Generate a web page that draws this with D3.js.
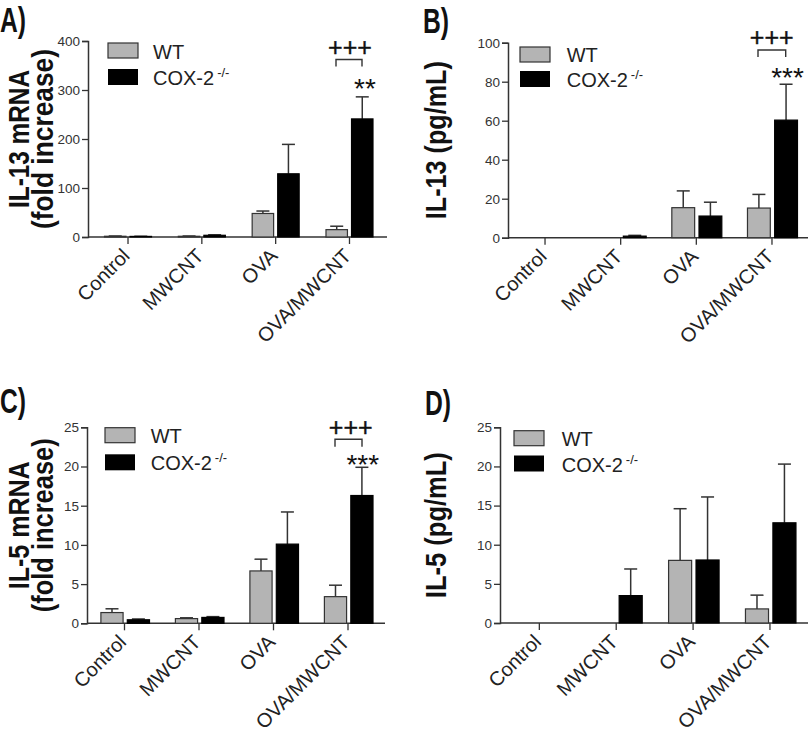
<!DOCTYPE html>
<html><head><meta charset="utf-8">
<script src="https://cdn.jsdelivr.net/npm/d3@7"></script>
<style>
html,body{margin:0;padding:0;background:#fff;}
svg{display:block;}
text{font-family:"Liberation Sans",Arial,sans-serif;}
</style></head>
<body>
<svg id="chart" width="810" height="737"></svg>
<script>
// ---------- data ----------
const categories = ["Control", "MWCNT", "OVA", "OVA/MWCNT"];
const seriesNames = ["WT", "COX-2"];

// Panel A: IL-13 mRNA (fold increase)
const aWT = [1.5, 1.5, 48, 15];
const aWTsem = [0.5, 0.5, 5, 7];
const aCOX = [1.2, 3.5, 129, 241];
const aCOXsem = [0.3, 1, 60, 45];
const aTicks = [0, 100, 200, 300, 400];

// Panel B: IL-13 (pg/mL)
const bWT = [0, 0, 15.4, 15.2];
const bWTsem = [0, 0, 8.6, 7];
const bCOX = [0, 0.8, 11.1, 60.3];
const bCOXsem = [0, 0.4, 7.1, 18.4];
const bTicks = [0, 20, 40, 60, 80, 100];

// Panel C: IL-5 mRNA (fold increase)
const cWT = [1.37, 0.6, 6.68, 3.4];
const cWTsem = [0.48, 0.1, 1.5, 1.46];
const cCOX = [0.45, 0.75, 10.1, 16.3];
const cCOXsem = [0.1, 0.1, 4.1, 3.6];
const cTicks = [0, 5, 10, 15, 20, 25];

// Panel D: IL-5 (pg/mL)
const dWT = [0, 0, 8.0, 1.8];
const dWTsem = [0, 0, 6.6, 1.76];
const dCOX = [0, 3.5, 8.05, 12.8];
const dCOXsem = [0, 3.4, 8.05, 7.5];
const dTicks = [0, 5, 10, 15, 20, 25];

// ---------- drawing ----------
const svg = d3.select("#chart");
svg.append("rect").attr("width", 810).attr("height", 737).attr("fill", "#fff");

const GREY = "#b4b4b4", INK = "#333";

function drawPanel(cfg) {
  const g = svg.append("g");
  const y = d3.scaleLinear().domain(cfg.yDomain).range([cfg.y0, cfg.y1]);
  const x = d3.scaleBand().domain(categories).range(cfg.bandRange);
  const xs = d3.scaleBand().domain(seriesNames).range(cfg.subRange).paddingInner(0.16);
  const cx = c => x(c) + x.bandwidth() / 2;

  // panel letter
  g.append("text").attr("x", cfg.letterX).attr("y", cfg.letterY)
    .attr("font-weight", "bold").attr("font-size", 35)
    .attr("textLength", 26).attr("lengthAdjust", "spacingAndGlyphs")
    .attr("fill", "#111").text(cfg.letter);

  // y axis
  const yAxis = d3.axisLeft(y).tickValues(cfg.ticks).tickSize(6).tickPadding(2).tickFormat(d3.format("d"));
  const ya = g.append("g").attr("transform", `translate(${cfg.axisX},0)`).call(yAxis);
  ya.select(".domain").attr("stroke", INK).attr("stroke-width", 1.5);
  ya.selectAll(".tick line").attr("stroke", INK).attr("stroke-width", 1.3);
  ya.selectAll(".tick text").attr("font-size", 13.5).attr("fill", "#333")
    .attr("font-family", "'Liberation Sans',Arial,sans-serif");

  // x axis
  const xa = g.append("g");
  xa.append("line").attr("x1", cfg.axisX).attr("x2", cfg.axisEnd)
    .attr("y1", y(0)).attr("y2", y(0)).attr("stroke", INK).attr("stroke-width", 1.5);
  xa.selectAll("line.tk").data(categories).join("line").attr("class", "tk")
    .attr("x1", d => cx(d)).attr("x2", d => cx(d))
    .attr("y1", y(0)).attr("y2", y(0) + 7).attr("stroke", INK).attr("stroke-width", 1.3);
  xa.selectAll("text").data(categories).join("text")
    .attr("transform", d => `translate(${cx(d) + 3},${y(0) + 20}) rotate(-45)`)
    .attr("text-anchor", "end").attr("font-size", 20).attr("fill", "#222").text(d => d);

  // bars data
  const rows = [];
  categories.forEach((c, i) => {
    rows.push({ c, s: "WT", v: cfg.wt[i], e: cfg.wtSem[i] });
    rows.push({ c, s: "COX-2", v: cfg.cox[i], e: cfg.coxSem[i] });
  });
  const vis = rows.filter(r => r.v > 0);
  const bx = r => cx(r.c) + xs(r.s);
  // error bars
  g.selectAll("line.err").data(vis).join("line").attr("class", "err")
    .attr("x1", r => bx(r) + xs.bandwidth() / 2).attr("x2", r => bx(r) + xs.bandwidth() / 2)
    .attr("y1", r => y(r.v)).attr("y2", r => y(r.v + r.e)).attr("stroke", INK).attr("stroke-width", 1.5);
  g.selectAll("line.cap").data(vis).join("line").attr("class", "cap")
    .attr("x1", r => bx(r) + xs.bandwidth() / 2 - 6.5).attr("x2", r => bx(r) + xs.bandwidth() / 2 + 6.5)
    .attr("y1", r => y(r.v + r.e)).attr("y2", r => y(r.v + r.e)).attr("stroke", INK).attr("stroke-width", 1.5);
  // bars
  g.selectAll("rect.bar").data(vis).join("rect").attr("class", "bar")
    .attr("x", r => bx(r)).attr("width", xs.bandwidth())
    .attr("y", r => y(r.v)).attr("height", r => y(0) - y(r.v))
    .attr("fill", r => r.s === "WT" ? GREY : "#000")
    .attr("stroke", r => r.s === "WT" ? INK : "#000").attr("stroke-width", 1.2);

  // y title
  cfg.titleLines.forEach((t, i) => {
    g.append("text")
      .attr("transform", `translate(${cfg.titleX[i]},${(cfg.y0 + cfg.y1) / 2}) rotate(-90)`)
      .attr("text-anchor", "middle").attr("font-weight", "bold").attr("font-size", 30)
      .attr("textLength", cfg.titleLen[i]).attr("lengthAdjust", "spacingAndGlyphs")
      .attr("fill", "#111").text(t);
  });

  // legend
  const lg = g.append("g");
  lg.append("rect").attr("x", cfg.leg.x).attr("y", cfg.leg.y1).attr("width", 30).attr("height", 15)
    .attr("fill", GREY).attr("stroke", INK).attr("stroke-width", 1.2);
  lg.append("rect").attr("x", cfg.leg.x).attr("y", cfg.leg.y2).attr("width", 30).attr("height", 16)
    .attr("fill", "#000");
  lg.append("text").attr("x", cfg.leg.tx).attr("y", cfg.leg.b1).attr("font-size", 20).attr("fill", "#222").text("WT");
  const t2 = lg.append("text").attr("x", cfg.leg.tx).attr("y", cfg.leg.b2).attr("font-size", 20).attr("fill", "#222");
  t2.append("tspan").text("COX-2");
  t2.append("tspan").attr("dx", 3).attr("dy", -8).attr("font-size", 13).text("-/-");

  // significance annotations
  if (cfg.sig) {
    const s = cfg.sig;
    g.append("text").attr("x", s.plusX).attr("y", s.plusY).attr("text-anchor", "middle")
      .attr("font-size", 25).attr("fill", "#111").attr("stroke", "#111").attr("stroke-width", 0.4).text("+++");
    g.append("path").attr("d", `M${s.bx1},${s.by2}V${s.by1}H${s.bx2}V${s.by2}`)
      .attr("fill", "none").attr("stroke", INK).attr("stroke-width", 1.4);
    g.append("text").attr("x", s.starX).attr("y", s.starY).attr("text-anchor", "middle")
      .attr("font-size", 28).attr("fill", "#111").text(s.stars);
  }
}

drawPanel({
  letter: "A)", letterX: 0, letterY: 32,
  wt: aWT, wtSem: aWTsem, cox: aCOX, coxSem: aCOXsem, ticks: aTicks,
  yDomain: [0, 400], y0: 237, y1: 41, axisX: 88, axisEnd: 387,
  bandRange: [91.1, 386.4], subRange: [-23.5, 23.5],
  titleLines: ["IL-13 mRNA", "(fold increase)"], titleX: [29, 53], titleLen: [138, 180],
  leg: { x: 108, y1: 43, y2: 69, tx: 153, b1: 58.5, b2: 85 },
  sig: { plusX: 350, plusY: 56, bx1: 336, bx2: 362, by1: 59.5, by2: 66.5, starX: 365, starY: 98, stars: "**" }
});
drawPanel({
  letter: "B)", letterX: 423, letterY: 33,
  wt: bWT, wtSem: bWTsem, cox: bCOX, coxSem: bCOXsem, ticks: bTicks,
  yDomain: [0, 100], y0: 237.7, y1: 42.7, axisX: 508, axisEnd: 808,
  bandRange: [507.2, 809.8], subRange: [-24.5, 25.5],
  titleLines: ["IL-13 (pg/mL)"], titleX: [446], titleLen: [158],
  leg: { x: 520, y1: 47, y2: 71, tx: 566.7, b1: 61.7, b2: 87.3 },
  sig: { plusX: 771.7, plusY: 46, bx1: 758, bx2: 785.7, by1: 50, by2: 57, starX: 787.5, starY: 86.6, stars: "***" }
});
drawPanel({
  letter: "C)", letterX: 0, letterY: 413,
  wt: cWT, wtSem: cWTsem, cox: cCOX, coxSem: cCOXsem, ticks: cTicks,
  yDomain: [0, 25], y0: 623.3, y1: 427.3, axisX: 87, axisEnd: 385,
  bandRange: [87.25, 385.25], subRange: [-23.6, 25],
  titleLines: ["IL-5 mRNA", "(fold increase)"], titleX: [29, 53], titleLen: [128, 174],
  leg: { x: 105, y1: 427.7, y2: 454.3, tx: 150.7, b1: 442.7, b2: 470 },
  sig: { plusX: 350.7, plusY: 436, bx1: 335, bx2: 362, by1: 439.3, by2: 446.7, starX: 362.8, starY: 474, stars: "***" }
});
drawPanel({
  letter: "D)", letterX: 425, letterY: 415,
  wt: dWT, wtSem: dWTsem, cox: dCOX, coxSem: dCOXsem, ticks: dTicks,
  yDomain: [0, 25], y0: 623, y1: 427.3, axisX: 500, axisEnd: 808,
  bandRange: [500.9, 808.4], subRange: [-24.5, 26],
  titleLines: ["IL-5 (pg/mL)"], titleX: [446], titleLen: [146],
  leg: { x: 514, y1: 430.7, y2: 455.5, tx: 561.7, b1: 446, b2: 471.7 },
  sig: null
});
</script>
</body></html>
